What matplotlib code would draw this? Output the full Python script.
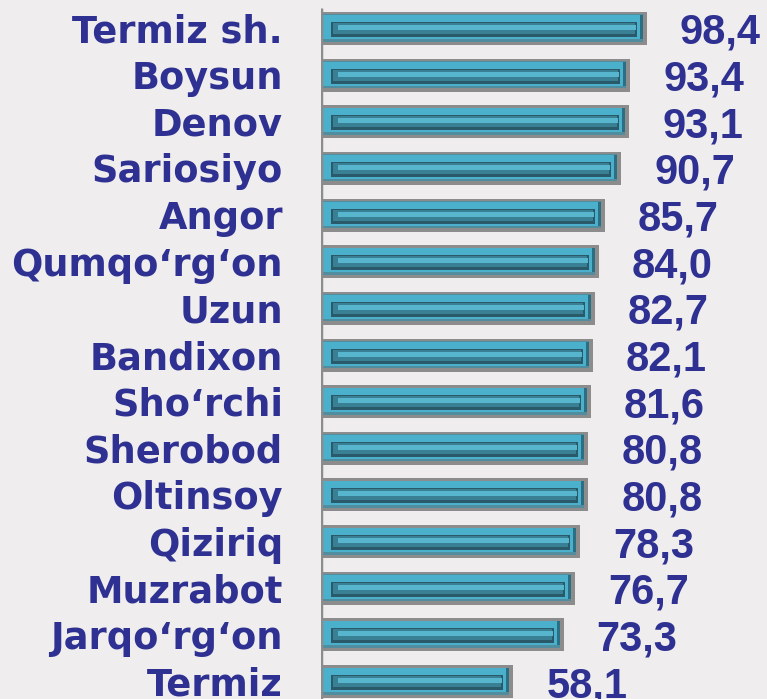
import matplotlib.pyplot as plt
import numpy as np

# Data (top to bottom)
districts = ['Termiz sh.', 'Boysun', 'Denov', 'Sariosiyo', 'Angor', 'Qumqo\u2018rg\u2018on',
             'Uzun', 'Bandixon', 'Sho\u2018rchi', 'Sherobod', 'Oltinsoy', 'Qiziriq',
             'Muzrabot', 'Jarqo\u2018rg\u2018on', 'Termiz']
values = [98.4, 93.4, 93.1, 90.7, 85.7, 84.0, 82.7, 82.1, 81.6, 80.8, 80.8, 78.3,
          76.7, 73.3, 58.1]

W, H = 767, 699
bg = '#efeded'
text_col = '#2e3192'

fig = plt.figure(figsize=(W / 100, H / 100), dpi=100, facecolor=bg)
ax = fig.add_axes([321 / W, 0, 446 / W, 1])
ax.set_facecolor(bg)

px_x = 3.31           # pixels per data unit along x
px_y = 46.64          # pixels per row
ax.set_xlim(0, 446 / px_x)
ax.set_ylim(14.375, -0.611)

y = np.arange(len(values))
vals = np.array(values)
dx = 1 / px_x
dy = 1 / px_y

# outer bar with grey frame (shadow)
ax.barh(y, vals, height=33 * dy, color='#8c8c8c', zorder=2)
ax.barh(y - 0.5 * dy, vals - 4 * dx, height=27 * dy, color='#4f8d9f', zorder=3)
ax.barh(y - 1.5 * dy, vals - 4 * dx, height=24 * dy, color='#2b6f84', zorder=3)
ax.barh(y - 1.5 * dy, vals - 7 * dx, height=24 * dy, color='#4ab0cb', zorder=3)
# inner groove
ax.barh(y + 1 * dy, vals - 20 * dx, left=10 * dx, height=15 * dy, color='#2a5a6a', zorder=4)
ax.barh(y, vals - 24 * dx, left=12 * dx, height=11 * dy, color='#3a8094', zorder=5)
ax.barh(y - 1 * dy, vals - 28 * dx, left=17 * dx, height=5 * dy, color='#57b5cd', zorder=6)

# axis line
ax.plot([0, 0], [-0.45, 14.375], color='#8c8c8c', lw=2.5, zorder=7, solid_capstyle='butt')

for i, (name, v) in enumerate(zip(districts, values)):
    ax.annotate(name, xy=(0, i), xytext=(-38, -14), textcoords='offset pixels',
                ha='right', va='baseline', fontsize=26.5, fontweight='bold',
                family='DejaVu Sans', color=text_col, annotation_clip=False)
    ax.annotate(f'{v:.1f}'.replace('.', ','), xy=(v, i), xytext=(33, -15.5),
                textcoords='offset pixels', ha='left', va='baseline', fontsize=30,
                fontweight='bold', family='Liberation Sans', color=text_col,
                annotation_clip=False)

ax.axis('off')
fig.savefig('out.png', dpi=100, facecolor=bg)
